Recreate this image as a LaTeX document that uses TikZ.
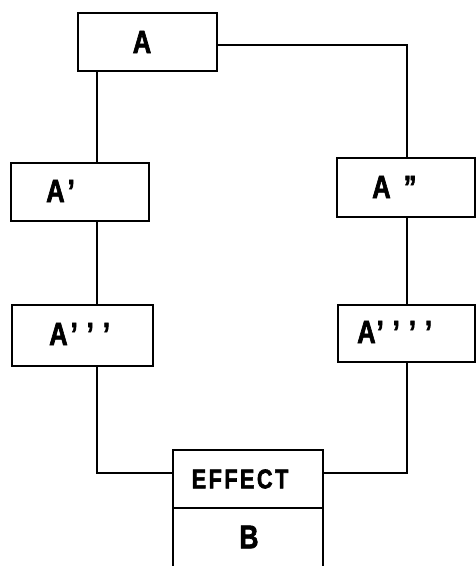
\documentclass[tikz,border=0pt]{standalone}
\usepackage{fontspec}
\newfontfamily\labfont{Liberation Sans}[UprightFeatures={FakeBold=2,FakeStretch=0.8},BoldFeatures={FakeBold=2,FakeStretch=0.8}]
\tikzset{
  box/.style={draw, line width=2.4pt, rectangle, inner sep=0pt},
  lab/.style={font=\labfont\bfseries\fontsize{32}{34}\selectfont, inner sep=0pt},
  conn/.style={line width=2pt}
}
\newcommand{\pr}{\hspace{9pt}’}
\newcommand{\ls}{\hspace{2.5pt}}
\begin{document}
\begin{tikzpicture}[x=1pt,y=-1pt]
\useasboundingbox (0,0) rectangle (475,566);
% boxes
\node[box, minimum width=139pt, minimum height=58pt] (A) at (147.5,42) {};
\node[box, minimum width=138pt, minimum height=58pt] (A1) at (80,192) {};
\node[box, minimum width=138pt, minimum height=59pt] (A2) at (406,187.5) {};
\node[box, minimum width=141pt, minimum height=61pt] (A3) at (82.5,335.5) {};
\node[box, minimum width=137pt, minimum height=57pt] (A4) at (406.5,333.5) {};
\node[box, minimum width=150pt, minimum height=58pt] (E) at (248,479) {};
\node[box, minimum width=150pt, minimum height=59pt] (B) at (248,537.5) {};
% labels
\node[lab] (tA) at (142,42) {A};
\node[lab, anchor=west] (tA1) at (46,191) {A\hspace{3pt}’};
\node[lab, anchor=west] (tA2) at (372,187) {A\hspace{13pt}”};
\node[lab, anchor=west] (tA3) at (49,334) {A\hspace{3pt}’\pr\pr};
\node[lab, anchor=west] (tA4) at (357,332) {A\hspace{1pt}’\pr\pr\pr};
\node[lab, font=\labfont\bfseries\fontsize{27}{29}\selectfont] (tE) at (240,479) {E\ls F\ls F\ls E\ls C\ls T};
\node[lab, font=\labfont\bfseries\fontsize{33}{35}\selectfont] (tB) at (249,537) {B};
% connector guide lines
\coordinate (L) at (97,0);
\coordinate (R) at (407,0);
% connectors
\draw[conn] ([yshift=-3pt]A.east) -| (A2.north -| R);
\draw[conn] (A.south -| L) -- (A1.north -| L);
\draw[conn] (A1.south -| L) -- (A3.north -| L);
\draw[conn] (A2.south -| R) -- (A4.north -| R);
\draw[conn] (A3.south -| L) |- ([yshift=6pt]E.west);
\draw[conn] (A4.south -| R) |- ([yshift=6pt]E.east);
\end{tikzpicture}
\end{document}
